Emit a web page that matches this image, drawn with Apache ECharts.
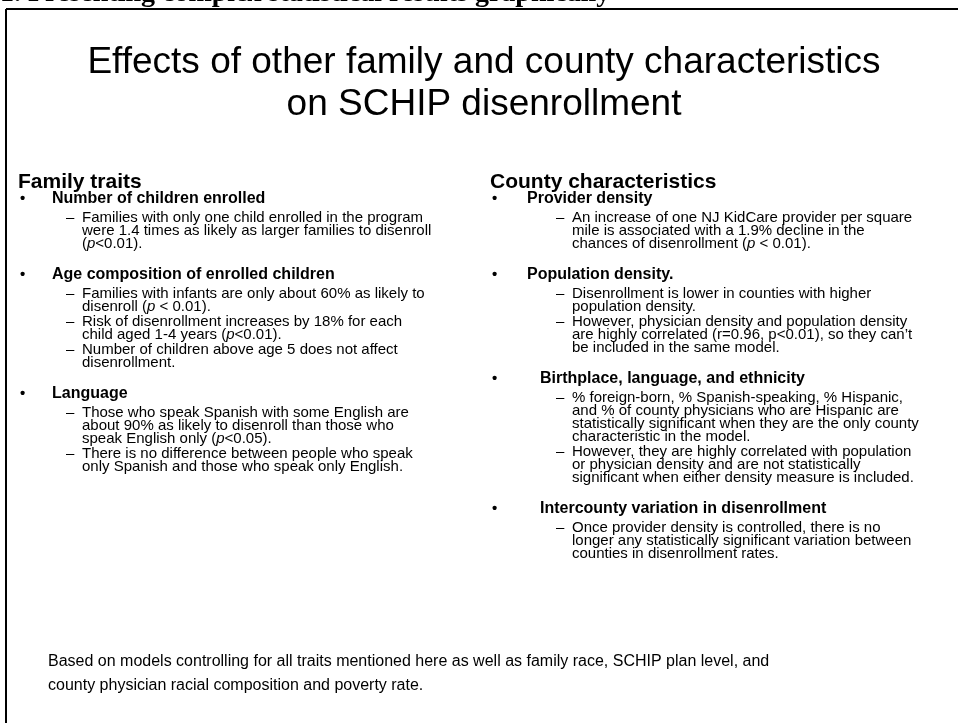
<!DOCTYPE html>
<html>
<head>
<meta charset="utf-8">
<script src="https://cdn.jsdelivr.net/npm/echarts@6/dist/echarts.min.js"></script>
<style>
  html, body { margin: 0; padding: 0; background: #fff; }
  #chart { width: 958px; height: 723px; }
</style>
</head>
<body>
<div id="chart"></div>
<script>
// slide text, _p_ marks an italic p
const pageHeader = '1. Presenting complex statistical results graphically';
const titleLines = ['Effects of other family and county characteristics', 'on SCHIP disenrollment'];

const leftHeading = 'Family traits';
const leftBullets = [
  { head: 'Number of children enrolled', items: [
    ['Families with only one child enrolled in the program', 'were 1.4 times as likely as larger families to disenroll', '(_p_<0.01).'],
  ] },
  { head: 'Age composition of enrolled children', items: [
    ['Families with infants are only about 60% as likely to', 'disenroll (_p_ < 0.01).'],
    ['Risk of disenrollment increases by 18% for each', 'child aged 1-4 years (_p_<0.01).'],
    ['Number of children above age 5 does not affect', 'disenrollment.'],
  ] },
  { head: 'Language', items: [
    ['Those who speak Spanish with some English are', 'about 90% as likely to disenroll than those who', 'speak English only (_p_<0.05).'],
    ['There is no difference between people who speak', 'only Spanish and those who speak only English.'],
  ] },
];

const rightHeading = 'County characteristics';
const rightBullets = [
  { head: 'Provider density', items: [
    ['An increase of one NJ KidCare provider per square', 'mile is associated with a 1.9% decline in the', 'chances of disenrollment (_p_ < 0.01).'],
  ] },
  { head: 'Population density.', items: [
    ['Disenrollment is lower in counties with higher', 'population density.'],
    ['However, physician density and population density', 'are highly correlated (r=0.96, p<0.01), so they can\u2019t', 'be included in the same model.'],
  ] },
  { head: 'Birthplace, language, and ethnicity', items: [
    ['% foreign-born, % Spanish-speaking, % Hispanic,', 'and % of county physicians who are Hispanic are', 'statistically significant when they are the only county', 'characteristic in the model.'],
    ['However, they are highly correlated with population', 'or physician density and are not statistically', 'significant when either density measure is included.'],
  ] },
  { head: 'Intercounty variation in disenrollment', items: [
    ['Once provider density is controlled, there is no', 'longer any statistically significant variation between', 'counties in disenrollment rates.'],
  ] },
];

const footnoteLines = [
  'Based on models controlling for all traits mentioned here as well as family race, SCHIP plan level, and',
  'county physician racial composition and poverty rate.',
];

const SANS = '"Liberation Sans", Arial, sans-serif';
const SERIF = '"Liberation Serif", "Times New Roman", serif';

function txt(x, y, s, opt = {}) {
  return {
    type: 'text',
    x, y,
    style: {
      text: s.replace(/_p_/g, '{i|p}'),
      fill: '#000',
      font: `${opt.weight || 'normal'} ${opt.size || 15}px ${opt.family || SANS}`,
      align: opt.align || 'left',
      verticalAlign: 'middle',
      rich: { i: { fontStyle: 'italic', fontSize: opt.size || 15, fontFamily: SANS, fill: '#000' } },
    },
  };
}

function column(cfg, heading, bullets) {
  const out = [];
  let y = 182;
  out.push(txt(cfg.x, y, heading, { weight: 'bold', size: 21 }));
  y += 17;
  bullets.forEach((b, bi) => {
    if (bi > 0) y += 31;
    out.push(txt(cfg.bullet, y, '\u2022', { weight: 'bold', size: 15 }));
    out.push(txt(cfg.heads[bi], y, b.head, { weight: 'bold', size: 16 }));
    y += 19;
    b.items.forEach((lines, ii) => {
      if (ii > 0) y += 15;
      out.push(txt(cfg.dash, y, '\u2013', { size: 15 }));
      lines.forEach((l, li) => {
        if (li > 0) y += 13;
        out.push(txt(cfg.text, y, l, { size: 15 }));
      });
    });
  });
  return out;
}

const chart = echarts.init(document.getElementById('chart'));

const graphic = [
  txt(0, -6, pageHeader, { weight: 'bold', size: 28, family: SERIF }),
  { type: 'rect', shape: { x: 0, y: 10, width: 958, height: 713 }, style: { fill: '#fff' } },
  { type: 'line', shape: { x1: 6, y1: 9, x2: 958, y2: 9 }, style: { stroke: '#000', lineWidth: 2 } },
  { type: 'line', shape: { x1: 6, y1: 9, x2: 6, y2: 723 }, style: { stroke: '#000', lineWidth: 2 } },
  txt(484, 63, titleLines[0], { size: 37, align: 'center' }),
  txt(484, 105, titleLines[1], { size: 37, align: 'center' }),
  ...column({ x: 18, bullet: 20, heads: [52, 52, 52], dash: 66, text: 82 }, leftHeading, leftBullets),
  ...column({ x: 490, bullet: 492, heads: [527, 527, 540, 540], dash: 556, text: 572 }, rightHeading, rightBullets),
  txt(48, 662, footnoteLines[0], { size: 16 }),
  txt(48, 686, footnoteLines[1], { size: 16 }),
];

chart.setOption({
  animation: false,
  backgroundColor: '#fff',
  graphic,
});
</script>
</body>
</html>
